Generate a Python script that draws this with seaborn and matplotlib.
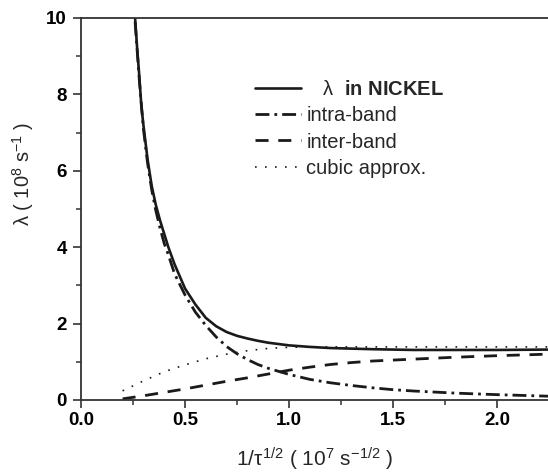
import matplotlib
matplotlib.use("Agg")
import matplotlib.pyplot as plt
import seaborn as sns
import numpy as np

# ---- data ----
x_total = [0.26, 0.27, 0.28, 0.29, 0.30, 0.32, 0.34, 0.36, 0.38, 0.40, 0.42, 0.45,
           0.50, 0.55, 0.60, 0.65, 0.70, 0.75, 0.80, 0.85, 0.90, 1.00, 1.10, 1.20,
           1.40, 1.60, 1.80, 2.00, 2.245]
y_total = [10.0, 9.2, 8.5, 7.7, 7.2, 6.3, 5.6, 5.1, 4.7, 4.35, 4.0, 3.55,
           2.92, 2.5, 2.15, 1.93, 1.78, 1.68, 1.61, 1.55, 1.50, 1.43, 1.39, 1.36,
           1.33, 1.31, 1.31, 1.31, 1.32]

x_intra = [0.26, 0.28, 0.30, 0.32, 0.34, 0.36, 0.38, 0.40, 0.42, 0.45, 0.50, 0.55,
           0.60, 0.65, 0.70, 0.75, 0.80, 0.85, 0.90, 1.00, 1.10, 1.20, 1.30, 1.40,
           1.50, 1.60, 1.80, 2.00, 2.245]
y_intra = [9.9, 8.4, 7.1, 6.2, 5.5, 4.95, 4.5, 4.1, 3.8, 3.3, 2.75, 2.3,
           1.95, 1.65, 1.4, 1.21, 1.06, 0.93, 0.83, 0.67, 0.54, 0.45, 0.38, 0.32,
           0.27, 0.235, 0.18, 0.14, 0.10]

x_inter = [0.20, 0.30, 0.40, 0.50, 0.60, 0.70, 0.80, 0.90, 1.00, 1.10, 1.20, 1.30,
           1.40, 1.60, 1.80, 2.00, 2.245]
y_inter = [0.03, 0.11, 0.20, 0.29, 0.39, 0.49, 0.58, 0.68, 0.78, 0.86, 0.93, 0.98,
           1.02, 1.07, 1.12, 1.16, 1.20]

x_cubic = [0.20, 0.30, 0.40, 0.50, 0.60, 0.70, 0.80, 0.90, 1.00, 1.20, 1.50, 2.00, 2.245]
y_cubic = [0.24, 0.50, 0.74, 0.92, 1.08, 1.20, 1.29, 1.35, 1.38, 1.39, 1.39, 1.39, 1.39]

labels = [r"   $\lambda$  $\mathbf{in\ NICKEL}$", "intra-band", "inter-band", "cubic approx."]
x_ticks = [0.0, 0.5, 1.0, 1.5, 2.0]
y_ticks = [0, 2, 4, 6, 8, 10]

sns.set_style("ticks")
plt.rcParams['font.family'] = ['Liberation Sans', 'DejaVu Sans']
plt.rcParams['mathtext.fontset'] = 'custom'
plt.rcParams['mathtext.rm'] = 'Liberation Sans'
plt.rcParams['mathtext.it'] = 'Liberation Sans'
plt.rcParams['mathtext.bf'] = 'Liberation Sans:bold'

ink = "#1a1a1a"
fig = plt.figure(figsize=(5.48, 4.74), dpi=100)
ax = fig.add_axes([81/548, 1-400/474, 1-81/548, (400-18)/474])

sns.lineplot(x=x_total, y=y_total, ax=ax, color=ink, lw=1.9, label=labels[0])
sns.lineplot(x=x_intra, y=y_intra, ax=ax, color=ink, lw=2.0,
             linestyle=(0, (5, 1.8, 1, 1.8)), label=labels[1])
sns.lineplot(x=x_inter, y=y_inter, ax=ax, color=ink, lw=2.0,
             linestyle=(0, (4.7, 3.5)), label=labels[2])
sns.lineplot(x=x_cubic, y=y_cubic, ax=ax, color=ink, lw=1.2,
             linestyle=(0, (1, 5)), label=labels[3])

ax.set_xlim(0, 2.245)
ax.set_ylim(0, 10)
ax.set_xticks(x_ticks)
ax.set_xticklabels([f"{v:.1f}" for v in x_ticks])
ax.set_yticks(y_ticks)
ax.set_yticklabels([str(v) for v in y_ticks])
ax.set_xticks(np.arange(0.25, 2.245, 0.5), minor=True)
ax.set_yticks([1, 3, 5, 7, 9], minor=True)

for s in ["left", "bottom", "top"]:
    ax.spines[s].set_visible(True)
    ax.spines[s].set_color("#333333")
    ax.spines[s].set_linewidth(1.3)
ax.spines["right"].set_visible(False)

ax.tick_params(which="major", direction="out", length=5.5, width=1.2, colors="#333333",
               labelcolor="black", labelsize=13.5, pad=3)
ax.tick_params(axis="y", which="major", pad=4.5)
ax.tick_params(which="minor", direction="out", length=3.5, width=1.1, colors="#333333")
ax.tick_params(axis="both", which="both", top=False, right=False)
for t in ax.get_xticklabels() + ax.get_yticklabels():
    t.set_fontweight("bold")

ax.set_ylabel(r"$\lambda$ ( 10$^{8}$ s$^{-1}$ )", fontsize=14.5)
ax.yaxis.set_label_coords((36-81)/467, (400-174)/382)
ax.set_xlabel(r"1/$\tau^{1/2}$ ( 10$^{7}$ s$^{-1/2}$ )", fontsize=15, labelpad=12)

leg = ax.legend(loc="upper left", bbox_to_anchor=((255-81)/467, (400-80)/382),
                frameon=False, fontsize=14.5, handlelength=2.3, handletextpad=0.25,
                labelspacing=0.36, borderpad=0, borderaxespad=0)
for h in leg.get_lines():
    h.set_color(ink)

fig.savefig("out.png", dpi=100)
